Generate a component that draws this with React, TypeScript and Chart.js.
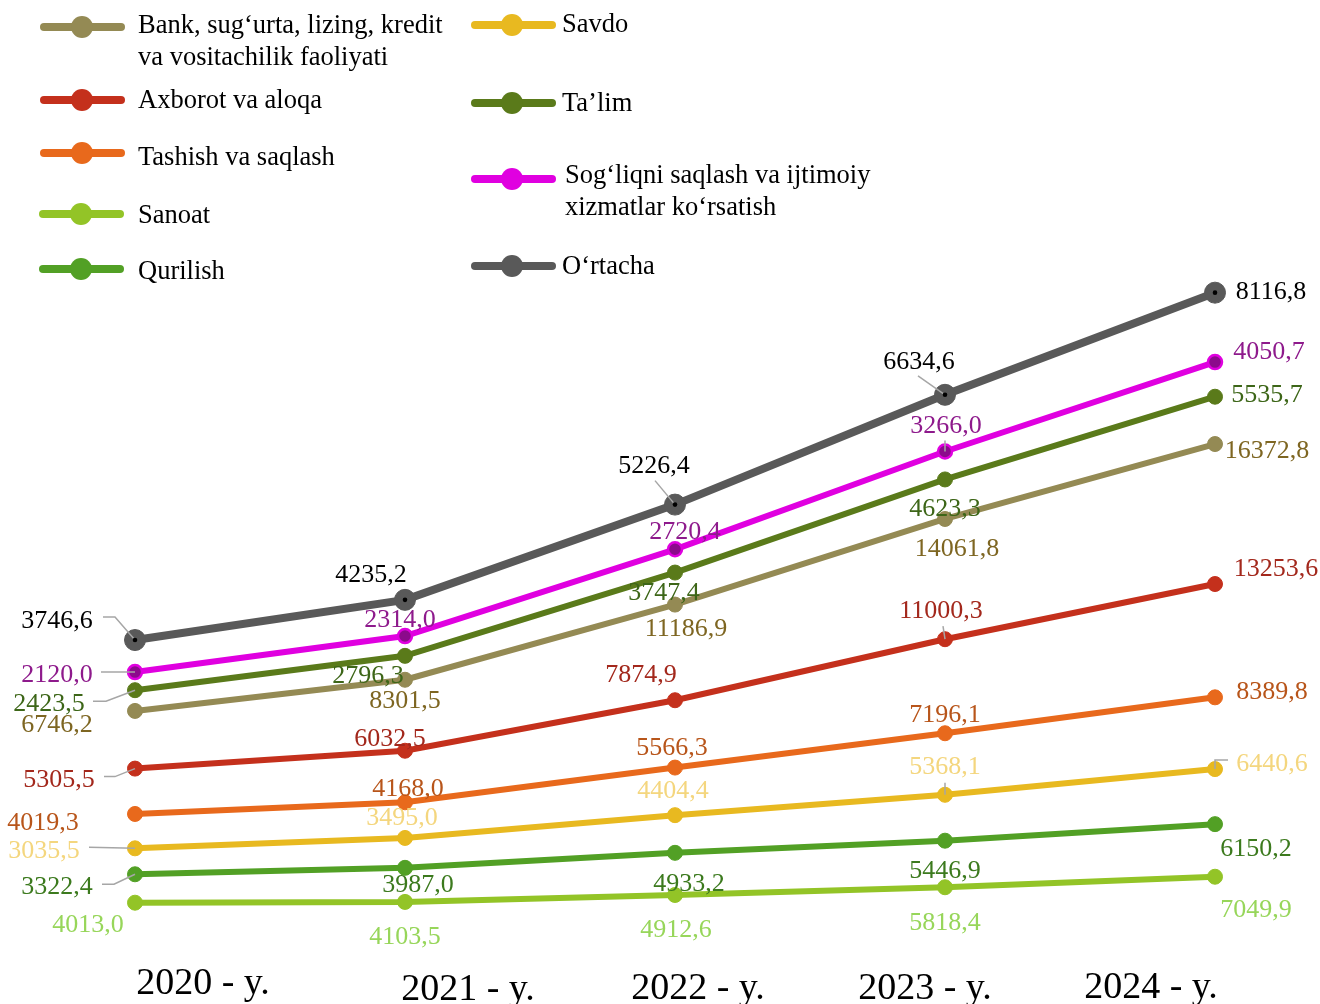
import React, { useEffect, useRef } from "react";
import { Chart, registerables } from "chart.js";

Chart.register(...registerables);

// ---------- DATA ----------
const YEARS = ["2020", "2021", "2022", "2023", "2024"];
const X_LABELS = ["2020 - y.", "2021 - y.", "2022 - y.", "2023 - y.", "2024 - y."];

const SANOAT = [4013.0, 4103.5, 4912.6, 5818.4, 7049.9];
const QURILISH = [3322.4, 3987.0, 4933.2, 5446.9, 6150.2];
const SAVDO = [3035.5, 3495.0, 4404.4, 5368.1, 6440.6];
const TASHISH = [4019.3, 4168.0, 5566.3, 7196.1, 8389.8];
const AXBOROT = [5305.5, 6032.5, 7874.9, 11000.3, 13253.6];
const BANK = [6746.2, 8301.5, 11186.9, 14061.8, 16372.8];
const TALIM = [2423.5, 2796.3, 3747.4, 4623.3, 5535.7];
const SOGLIQ = [2120.0, 2314.0, 2720.4, 3266.0, 4050.7];
const ORTACHA = [3746.6, 4235.2, 5226.4, 6634.6, 8116.8];

const NAME_BANK = ["Bank, sug‘urta, lizing, kredit", "va vositachilik faoliyati"];
const NAME_AXBOROT = ["Axborot va aloqa"];
const NAME_TASHISH = ["Tashish va saqlash"];
const NAME_SANOAT = ["Sanoat"];
const NAME_QURILISH = ["Qurilish"];
const NAME_SAVDO = ["Savdo"];
const NAME_TALIM = ["Ta’lim"];
const NAME_SOGLIQ = ["Sog‘liqni saqlash va ijtimoiy", "xizmatlar ko‘rsatish"];
const NAME_ORTACHA = ["O‘rtacha"];

// ---------- STYLES / LAYOUT ----------
type Pt = [number, number];
interface SeriesStyle {
  key: string;
  name: string[];
  data: number[];
  line: string;
  label: string;
  width: number;
  radius: number;
  pointFill: string;
  pointBorder: string;
  pointBorderWidth: number;
  centerDot?: boolean;
  offsets: Pt[];
  leaders: (Pt[] | null)[];
}

// stacking order: bottom -> top
const SERIES: SeriesStyle[] = [
  {
    key: "san", name: NAME_SANOAT, data: SANOAT, line: "#93C427", label: "#97D65A",
    width: 6, radius: 7.5, pointFill: "#93C427", pointBorder: "#93C427", pointBorderWidth: 1,
    offsets: [[-47, 20], [0, 33], [1, 33], [0, 34], [41, 31]],
    leaders: [null, null, null, null, null],
  },
  {
    key: "qur", name: NAME_QURILISH, data: QURILISH, line: "#52A025", label: "#3C7A1E",
    width: 6, radius: 7.5, pointFill: "#52A025", pointBorder: "#52A025", pointBorderWidth: 1,
    offsets: [[-78, 11], [13, 15], [14, 29], [0, 28], [41, 23]],
    leaders: [[[-33, 10], [-21, 10]], null, null, null, null],
  },
  {
    key: "sav", name: NAME_SAVDO, data: SAVDO, line: "#E8B920", label: "#F4D67E",
    width: 6, radius: 7.5, pointFill: "#E8B920", pointBorder: "#E8B920", pointBorderWidth: 1,
    offsets: [[-91, 1], [-3, -22], [-2, -26], [0, -30], [57, -7]],
    leaders: [[[-46, -1]], null, null, [[0, -12]], [[13, -9], [0, -9]]],
  },
  {
    key: "tash", name: NAME_TASHISH, data: TASHISH, line: "#E8691C", label: "#B8551A",
    width: 6, radius: 7.5, pointFill: "#E8691C", pointBorder: "#E8691C", pointBorderWidth: 1,
    offsets: [[-92, 7], [3, -15], [-3, -22], [0, -20], [57, -7]],
    leaders: [null, null, null, null, null],
  },
  {
    key: "axb", name: NAME_AXBOROT, data: AXBOROT, line: "#C4301C", label: "#A3281C",
    width: 6, radius: 7.5, pointFill: "#C4301C", pointBorder: "#C4301C", pointBorderWidth: 1,
    offsets: [[-76, 9], [-15, -14], [-34, -27], [-4, -30], [61, -17]],
    leaders: [[[-31, 8], [-20, 8]], null, null, [[-2, -13]], null],
  },
  {
    key: "bank", name: NAME_BANK, data: BANK, line: "#948A54", label: "#7E6622",
    width: 6, radius: 7.5, pointFill: "#948A54", pointBorder: "#948A54", pointBorderWidth: 1,
    offsets: [[-78, 12], [0, 19], [11, 22], [12, 28], [52, 5]],
    leaders: [null, null, null, null, null],
  },
  {
    key: "talim", name: NAME_TALIM, data: TALIM, line: "#5A7A1A", label: "#3D6618",
    width: 6, radius: 7.5, pointFill: "#5A7A1A", pointBorder: "#5A7A1A", pointBorderWidth: 1,
    offsets: [[-86, 12], [-37, 18], [-11, 18], [0, 28], [52, -4]],
    leaders: [[[-42, 11], [-29, 11]], null, null, null, null],
  },
  {
    key: "sog", name: NAME_SOGLIQ, data: SOGLIQ, line: "#E000E0", label: "#8E1A8C",
    width: 6, radius: 7, pointFill: "#8C0A8C", pointBorder: "#E000E0", pointBorderWidth: 2.5,
    offsets: [[-78, 1], [-5, -18], [10, -19], [1, -28], [54, -12]],
    leaders: [[[-34, 0]], null, null, [[0, -11]], null],
  },
  {
    key: "ort", name: NAME_ORTACHA, data: ORTACHA, line: "#595959", label: "#000000",
    width: 8, radius: 10.5, pointFill: "#595959", pointBorder: "#595959", pointBorderWidth: 1, centerDot: true,
    offsets: [[-78, -21], [-34, -27], [-21, -41], [-26, -35], [56, -3]],
    leaders: [[[-32, -23], [-20, -23]], null, [[-20, -24]], [[-27, -19]], null],
  },
];

// legend: [series key, line start x, line end x, marker x, marker y, text x, first baseline]
const LEGEND: [string, number, number, number, number, number, number][] = [
  ["bank", 44, 121, 82, 27, 138, 33],
  ["axb", 44, 121, 82, 100, 138, 108],
  ["tash", 44, 121, 82, 153, 138, 165],
  ["san", 43, 120, 81, 214, 138, 223],
  ["qur", 43, 120, 81, 269, 138, 279],
  ["sav", 475, 552, 512, 25, 562, 32],
  ["talim", 475, 552, 512, 103, 562, 111],
  ["sog", 475, 552, 512, 179, 565, 183],
  ["ort", 475, 552, 512, 266, 562, 274],
];
const LEGEND_LINE_GAP = 32;
// x-label horizontal offsets from category pixel, and baselines
const XLABEL_DX = [68, 63, 23, -20, -64];
const XLABEL_BASE = [994, 1000, 999, 999, 998];

const SERIF = '"Liberation Serif", "Times New Roman", serif';
const fmt = (v: number) => v.toFixed(1).replace(".", ",");

const overlayPlugin = {
  id: "overlay",
  afterDatasetsDraw(chart: any) {
    const ctx = chart.ctx as CanvasRenderingContext2D;
    ctx.save();
    // leader lines
    SERIES.forEach((s, di) => {
      const meta = chart.getDatasetMeta(di);
      meta.data.forEach((pt: any, i: number) => {
        const lead = s.leaders[i];
        if (!lead) return;
        ctx.beginPath();
        ctx.strokeStyle = "#A6A6A6";
        ctx.lineWidth = 1.5;
        ctx.moveTo(pt.x + lead[0][0], pt.y + lead[0][1]);
        for (let k = 1; k < lead.length; k++) ctx.lineTo(pt.x + lead[k][0], pt.y + lead[k][1]);
        ctx.lineTo(pt.x, pt.y);
        ctx.stroke();
      });
    });
    // centre dots
    SERIES.forEach((s, di) => {
      if (!s.centerDot) return;
      const meta = chart.getDatasetMeta(di);
      meta.data.forEach((pt: any) => {
        ctx.beginPath();
        ctx.fillStyle = "#000";
        ctx.arc(pt.x, pt.y, 2.3, 0, Math.PI * 2);
        ctx.fill();
      });
    });
    // data labels
    ctx.font = `26px ${SERIF}`;
    ctx.textAlign = "center";
    ctx.textBaseline = "alphabetic";
    SERIES.forEach((s, di) => {
      const meta = chart.getDatasetMeta(di);
      meta.data.forEach((pt: any, i: number) => {
        const [dx, dy] = s.offsets[i];
        ctx.fillStyle = s.label;
        ctx.fillText(fmt(s.data[i]), pt.x + dx, pt.y + dy + 9);
      });
    });
    ctx.restore();
  },
  afterDraw(chart: any) {
    const ctx = chart.ctx as CanvasRenderingContext2D;
    ctx.save();
    // legend
    LEGEND.forEach(([key, x1, x2, mx, my, tx, ty]) => {
      const s = SERIES.find((q) => q.key === key)!;
      ctx.beginPath();
      ctx.strokeStyle = s.line;
      ctx.lineWidth = 8;
      ctx.lineCap = "round";
      ctx.moveTo(x1, my);
      ctx.lineTo(x2, my);
      ctx.stroke();
      ctx.beginPath();
      ctx.fillStyle = s.line;
      ctx.arc(mx, my, 11, 0, Math.PI * 2);
      ctx.fill();
      ctx.fillStyle = "#000";
      ctx.font = `26.5px ${SERIF}`;
      ctx.textAlign = "left";
      ctx.textBaseline = "alphabetic";
      s.name.forEach((ln, li) => ctx.fillText(ln, tx, ty + li * LEGEND_LINE_GAP));
    });
    // x labels
    const xs = chart.scales.x;
    ctx.fillStyle = "#000";
    ctx.font = `38px ${SERIF}`;
    ctx.textAlign = "center";
    X_LABELS.forEach((t, i) => {
      const x = xs.getPixelForValue(i) + XLABEL_DX[i];
      ctx.fillText(t, x, XLABEL_BASE[i]);
    });
    ctx.restore();
  },
};

export default function App() {
  const ref = useRef<HTMLCanvasElement | null>(null);
  useEffect(() => {
    if (!ref.current) return;
    const chart = new Chart(ref.current, {
      type: "line",
      data: {
        labels: YEARS,
        datasets: SERIES.map((s) => ({
          label: s.name.join(" "),
          data: s.data,
          borderColor: s.line,
          borderWidth: s.width,
          backgroundColor: s.line,
          pointRadius: s.radius,
          pointHoverRadius: s.radius,
          pointBackgroundColor: s.pointFill,
          pointBorderColor: s.pointBorder,
          pointBorderWidth: s.pointBorderWidth,
          fill: false,
          tension: 0,
          clip: false as any,
        })),
      },
      options: {
        animation: false,
        responsive: false,
        events: [],
        layout: { padding: { left: 135, right: 105, top: 253, bottom: 67 } },
        plugins: { legend: { display: false }, tooltip: { enabled: false } },
        scales: {
          x: { display: false, offset: false },
          y: { display: false, stacked: true, min: 0, max: 80000 },
        },
      },
      plugins: [overlayPlugin],
    });
    document.fonts?.ready.then(() => chart.draw());
    return () => chart.destroy();
  }, []);
  return (
    <div style={{ position: "absolute", left: 0, top: 0, width: 1320, height: 1004, background: "#fff" }}>
      <canvas ref={ref} width={1320} height={1004} style={{ width: 1320, height: 1004 }} />
    </div>
  );
}
